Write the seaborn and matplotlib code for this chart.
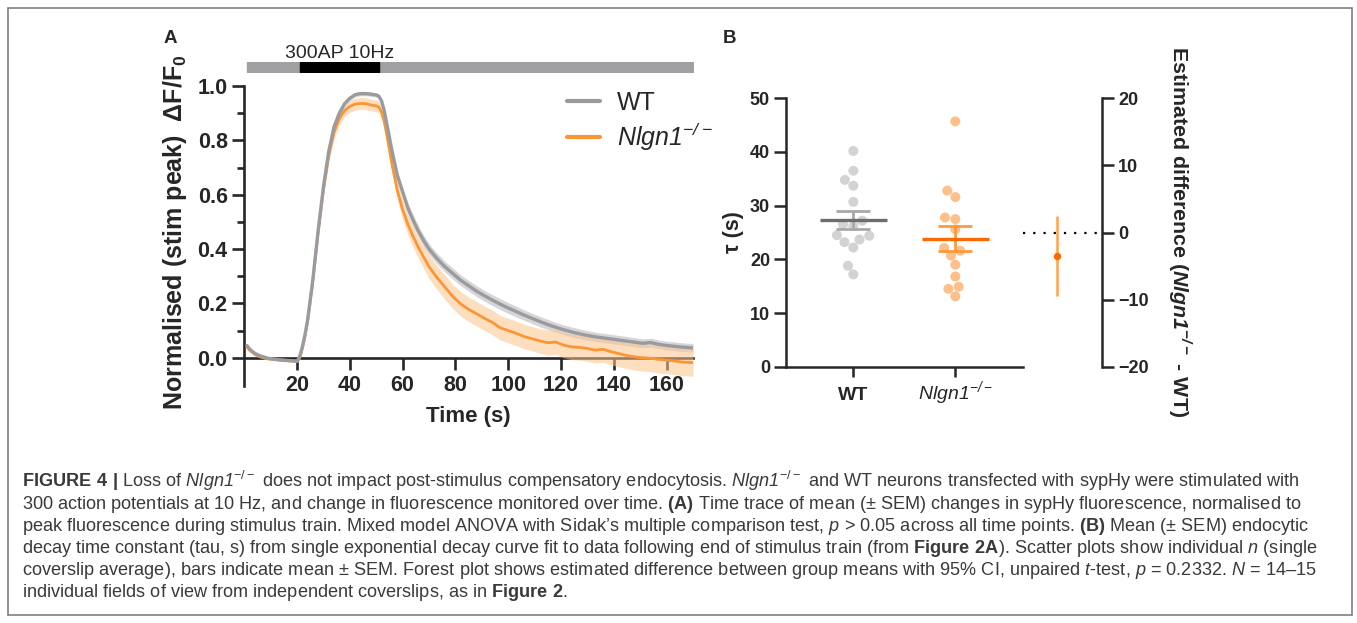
import numpy as np
import pandas as pd
import seaborn as sns
import matplotlib.pyplot as plt
from matplotlib.patches import Rectangle

# ---- panel A: sypHy trace (normalised dF/F0), mean and SEM ----
time_s = [1, 2, 4, 6, 9, 12, 15, 18, 20, 21, 22, 23, 24, 26, 28, 30, 32, 34, 36, 38,
          40, 42, 44, 46, 48, 50, 51, 52, 53, 54, 56, 58, 60, 62, 64, 66, 68, 70, 73, 76,
          79, 82, 85, 88, 91, 94, 97, 100, 103, 106, 109, 112, 115, 118, 121, 124, 127, 130,
          133, 136, 139, 142, 145, 148, 151, 154, 157, 160, 163, 166, 170]
wt_mean = [0.045, 0.032, 0.016, 0.007, -0.002, -0.006, -0.009, -0.011, -0.013, 0.005, 0.04,
           0.085, 0.14, 0.29, 0.47, 0.63, 0.76, 0.85, 0.90, 0.935, 0.955, 0.968, 0.972, 0.972,
           0.970, 0.967, 0.962, 0.945, 0.91, 0.86, 0.76, 0.67, 0.61, 0.55, 0.505, 0.465, 0.43,
           0.40, 0.365, 0.335, 0.31, 0.285, 0.265, 0.245, 0.228, 0.212, 0.197, 0.183, 0.17,
           0.157, 0.145, 0.133, 0.122, 0.112, 0.103, 0.095, 0.088, 0.082, 0.077, 0.073, 0.069,
           0.065, 0.061, 0.057, 0.053, 0.056, 0.049, 0.045, 0.042, 0.039, 0.036]
wt_sem = [0.006, 0.005, 0.004, 0.004, 0.004, 0.004, 0.004, 0.004, 0.004, 0.005, 0.008,
          0.01, 0.012, 0.014, 0.014, 0.013, 0.012, 0.011, 0.01, 0.009, 0.008, 0.008, 0.008, 0.008,
          0.008, 0.008, 0.008, 0.009, 0.01, 0.012, 0.015, 0.017, 0.018, 0.019, 0.02, 0.02, 0.02,
          0.02, 0.02, 0.02, 0.02, 0.02, 0.02, 0.02, 0.02, 0.02, 0.02, 0.02, 0.02,
          0.019, 0.019, 0.019, 0.019, 0.018, 0.018, 0.018, 0.018, 0.018, 0.017, 0.017, 0.017,
          0.017, 0.017, 0.017, 0.016, 0.016, 0.016, 0.016, 0.016, 0.016, 0.016]
ko_mean = [0.04, 0.028, 0.012, 0.004, -0.004, -0.007, -0.01, -0.012, -0.012, 0.0, 0.035,
           0.08, 0.135, 0.285, 0.465, 0.62, 0.745, 0.83, 0.88, 0.91, 0.925, 0.933, 0.936, 0.935,
           0.93, 0.927, 0.922, 0.905, 0.87, 0.82, 0.71, 0.615, 0.545, 0.49, 0.445, 0.405, 0.37,
           0.335, 0.295, 0.26, 0.225, 0.198, 0.178, 0.162, 0.145, 0.13, 0.11, 0.1, 0.09,
           0.078, 0.07, 0.062, 0.055, 0.058, 0.046, 0.04, 0.038, 0.034, 0.028, 0.031, 0.022,
           0.015, 0.008, 0.003, 0.0, -0.002, -0.006, -0.009, -0.012, -0.016, -0.018]
ko_sem = [0.006, 0.005, 0.005, 0.005, 0.005, 0.005, 0.005, 0.005, 0.005, 0.008, 0.012,
          0.015, 0.018, 0.022, 0.025, 0.026, 0.026, 0.025, 0.024, 0.023, 0.022, 0.022, 0.022, 0.022,
          0.022, 0.022, 0.022, 0.023, 0.025, 0.028, 0.032, 0.035, 0.037, 0.039, 0.04, 0.041, 0.042,
          0.043, 0.044, 0.045, 0.045, 0.045, 0.045, 0.045, 0.045, 0.045, 0.045, 0.045, 0.045,
          0.045, 0.045, 0.045, 0.046, 0.046, 0.046, 0.047, 0.047, 0.047, 0.047, 0.048, 0.048,
          0.048, 0.048, 0.049, 0.049, 0.049, 0.05, 0.05, 0.05, 0.05, 0.05]

trace_start, trace_end = 1, 170
stim_on, stim_off = 21, 51

# ---- panel B: endocytic tau (s) per coverslip ----
groups = ['WT', 'Nlgn1']
wt_tau = [40.2, 36.5, 34.8, 33.7, 30.7, 27.2, 26.2, 26.5, 24.5, 23.7, 24.4, 23.2, 22.2, 18.8, 17.2]
ko_tau = [45.7, 32.8, 31.6, 27.8, 27.5, 25.6, 22.1, 21.6, 20.7, 19.0, 16.8, 14.9, 14.5, 13.1]
diff_est = -3.5
diff_ci = [-9.4, 2.4]

W, H = 1357, 623
sns.set_style('ticks')
plt.rcParams['font.family'] = ['Liberation Sans', 'DejaVu Sans']
plt.rcParams['mathtext.fontset'] = 'custom'
plt.rcParams['mathtext.rm'] = 'Liberation Sans'
plt.rcParams['mathtext.bf'] = 'Liberation Sans:bold'
# sf / cal used as whole-word italic and bold italic (digits included)
plt.rcParams['mathtext.sf'] = 'Liberation Sans:italic'
plt.rcParams['mathtext.cal'] = 'Liberation Sans:italic:bold'

fig = plt.figure(figsize=(W / 100, H / 100), dpi=100)


def box(l, t, r, b):
    return [l / W, 1 - b / H, (r - l) / W, (b - t) / H]


KO_LAB = r'$\mathsf{Nlgn1}^{\mathsf{-/-}}$'

# ===================== panel A =====================
axA = fig.add_axes(box(244.3, 86, 693, 386))
axA.fill_between(time_s, np.array(wt_mean) - wt_sem, np.array(wt_mean) + wt_sem,
                 color='#c9c9cb', alpha=0.75, lw=0, zorder=3)
axA.fill_between(time_s, np.array(ko_mean) - ko_sem, np.array(ko_mean) + ko_sem,
                 color='#fdc48c', alpha=0.55, lw=0, zorder=3)
sns.lineplot(x=time_s, y=ko_mean, ax=axA, color='#fb9634', lw=2.0, label=KO_LAB, zorder=4)
sns.lineplot(x=time_s, y=wt_mean, ax=axA, color='#9b9b9f', lw=2.4, label='WT', zorder=5)

axA.set_xlim(0, 170)
axA.set_ylim(-0.104, 1.0)
axA.spines['bottom'].set_position(('data', 0))
for s in ['top', 'right']:
    axA.spines[s].set_visible(False)
for s in ['left', 'bottom']:
    axA.spines[s].set_linewidth(1.9)
axA.set_xticks(np.arange(20, 161, 20))
axA.set_yticks(np.arange(0, 1.01, 0.2))
axA.set_yticks(np.arange(0.1, 1.0, 0.2), minor=True)
axA.yaxis.set_major_formatter(plt.FuncFormatter(lambda v, p: '{:.1f}'.format(v)))
axA.tick_params(axis='x', length=8.6, width=1.9, labelsize=15.5, pad=4)
axA.tick_params(axis='y', which='major', length=9, width=1.9, labelsize=15.5, pad=3)
axA.tick_params(axis='y', which='minor', length=5, width=1.9)
for lab in axA.get_xticklabels() + axA.get_yticklabels():
    lab.set_fontweight('bold')

handles, labels = axA.get_legend_handles_labels()
axA.legend(handles[::-1], labels[::-1], loc='upper left', bbox_to_anchor=(0.72, 0.985),
           frameon=False, fontsize=18, handlelength=1.3, handletextpad=0.7,
           labelspacing=0.25, borderpad=0, borderaxespad=0)
for ln in axA.get_legend().get_lines():
    ln.set_linewidth(3)

# stimulus bar
axS = fig.add_axes(box(244.3, 62, 693, 72))
axS.broken_barh([(trace_start, trace_end - trace_start)], (0, 1), color='#a1a1a4')
axS.broken_barh([(stim_on, stim_off - stim_on)], (0, 1), color='black')
axS.set_xlim(0, 170)
axS.set_ylim(0, 1)
axS.axis('off')
axS.text((stim_on + stim_off) / 2, 1.45, '300AP 10Hz', ha='center', va='baseline', fontsize=14)

fig.text(175 / W, 1 - 232.5 / H, 'Normalised (stim peak)  ΔF/F$_\\mathbf{0}$', rotation=90,
         ha='center', va='center', fontsize=18, fontweight='bold')
fig.text(468.6 / W, 1 - 416.6 / H, 'Time (s)', ha='center', va='center', fontsize=16,
         fontweight='bold')
fig.text(164 / W, 1 - 43 / H, 'A', fontsize=13.5, fontweight='bold', va='baseline')
fig.text(723 / W, 1 - 43 / H, 'B', fontsize=13.5, fontweight='bold', va='baseline')

# ===================== panel B =====================
axB = fig.add_axes(box(785.7, 98.3, 1101.7, 366.7))
pos = {g: i for i, g in enumerate(groups)}
df_tau = pd.DataFrame({
    'genotype': ['WT'] * len(wt_tau) + ['Nlgn1'] * len(ko_tau),
    'tau': wt_tau + ko_tau,
})
df_tau['pos'] = df_tau['genotype'].map(pos)

pt_cols = {'WT': '#d3d3d3', 'Nlgn1': '#fdc08a'}
mean_cols = {'WT': '#6d6d6d', 'Nlgn1': '#ff6a00'}
sem_cols = {'WT': '#a8a8a8', 'Nlgn1': '#ff9a3c'}

sns.swarmplot(data=df_tau, x='pos', y='tau', hue='genotype', palette=pt_cols,
              native_scale=True, size=7.2, linewidth=0, legend=False, ax=axB, zorder=2)

stats = df_tau.groupby('genotype')['tau'].agg(['mean', 'std', 'count'])
for g in groups:
    m = stats.loc[g, 'mean']
    se = stats.loc[g, 'std'] / np.sqrt(stats.loc[g, 'count'])
    axB.errorbar(pos[g], m, yerr=se, fmt='none', ecolor=sem_cols[g], elinewidth=2,
                 capsize=12.2, capthick=2, zorder=4)
    axB.hlines(m, pos[g] - 0.33, pos[g] + 0.33, colors=mean_cols[g], lw=2.4, zorder=5)

axB.set_xlim(-0.663, 2.435)
axB.set_ylim(0, 50)
axB.set_yticks(np.arange(0, 51, 10))
axB.set_xticks([pos[g] for g in groups])
axB.set_xticklabels(['WT', KO_LAB])
axB.set_xlabel('')
axB.set_ylabel('')
for s in ['top', 'right']:
    axB.spines[s].set_visible(False)
for s in ['left', 'bottom']:
    axB.spines[s].set_linewidth(1.8)
axB.spines['bottom'].set_bounds(-0.663, 1.66)
axB.tick_params(axis='y', length=8.8, width=1.8, labelsize=13, pad=2.5)
axB.tick_params(axis='x', length=7.2, width=1.8, labelsize=14, pad=16.5)
for lab in axB.get_yticklabels():
    lab.set_fontweight('bold')
for lab in axB.get_xticklabels():
    lab.set_va('baseline')
axB.get_xticklabels()[0].set_fontweight('bold')

axB2 = axB.twinx()
axB2.set_ylim(-20, 20)
axB2.set_yticks(np.arange(-20, 21, 10))
for s in ['top', 'left', 'bottom']:
    axB2.spines[s].set_visible(False)
axB2.spines['right'].set_linewidth(1.8)
axB2.tick_params(axis='y', length=8.4, width=1.8, labelsize=13, pad=3.5)
for lab in axB2.get_yticklabels():
    lab.set_fontweight('bold')
forest_x = len(groups)
axB2.hlines(0, 1.66, 2.39, colors='black', linestyles=(0, (1, 3.6)), lw=1.6)
axB2.errorbar(forest_x, diff_est, yerr=[[diff_est - diff_ci[0]], [diff_ci[1] - diff_est]],
              fmt='none', ecolor='#ffa347', elinewidth=1.8, capsize=0, zorder=3)
axB2.plot(forest_x, diff_est, 'o', color='#ff6a00', ms=5.4, mew=0, zorder=4)

fig.text(733 / W, 1 - 232 / H, 'τ (s)', rotation=90, ha='center', va='center',
         fontsize=15.5, fontweight='bold')
fig.text(1180 / W, 1 - 232 / H,
         r'Estimated difference ($\mathcal{Nlgn1}^{\mathcal{-/-}}$ - WT)',
         rotation=270, ha='center', va='center', fontsize=15.4, fontweight='bold')

# ===================== caption =====================
NL = r'$\mathsf{Nlgn1}^{-/-}$'
caption = [
    r'$\mathbf{FIGURE\ 4\ |}$ Loss of ' + NL + ' does not impact post-stimulus compensatory endocytosis. ' + NL + ' and WT neurons transfected with sypHy were stimulated with',
    r'300 action potentials at 10 Hz, and change in fluorescence monitored over time. $\mathbf{(A)}$ Time trace of mean (± SEM) changes in sypHy fluorescence, normalised to',
    r'peak fluorescence during stimulus train. Mixed model ANOVA with Sidak’s multiple comparison test, $\mathsf{p}$ > 0.05 across all time points. $\mathbf{(B)}$ Mean (± SEM) endocytic',
    r'decay time constant (tau, s) from single exponential decay curve fit to data following end of stimulus train (from $\mathbf{Figure\ 2A}$). Scatter plots show individual $\mathsf{n}$ (single',
    r'coverslip average), bars indicate mean ± SEM. Forest plot shows estimated difference between group means with 95% CI, unpaired $\mathsf{t}$-test, $\mathsf{p}$ = 0.2332. $\mathsf{N}$ = 14–15',
    r'individual fields of view from independent coverslips, as in $\mathbf{Figure\ 2}$.',
]
for i, line in enumerate(caption):
    fig.text(22 / W, 1 - (487 + 22 * i) / H, line, fontsize=13.05, color='#3a3a3a',
             va='baseline', ha='left')

fig.add_artist(Rectangle((8 / W, 8 / H), (1352 - 8) / W, (615 - 8) / H,
                         transform=fig.transFigure, fill=False, ec='#808080', lw=1.2))

fig.savefig('out.png', dpi=100)
